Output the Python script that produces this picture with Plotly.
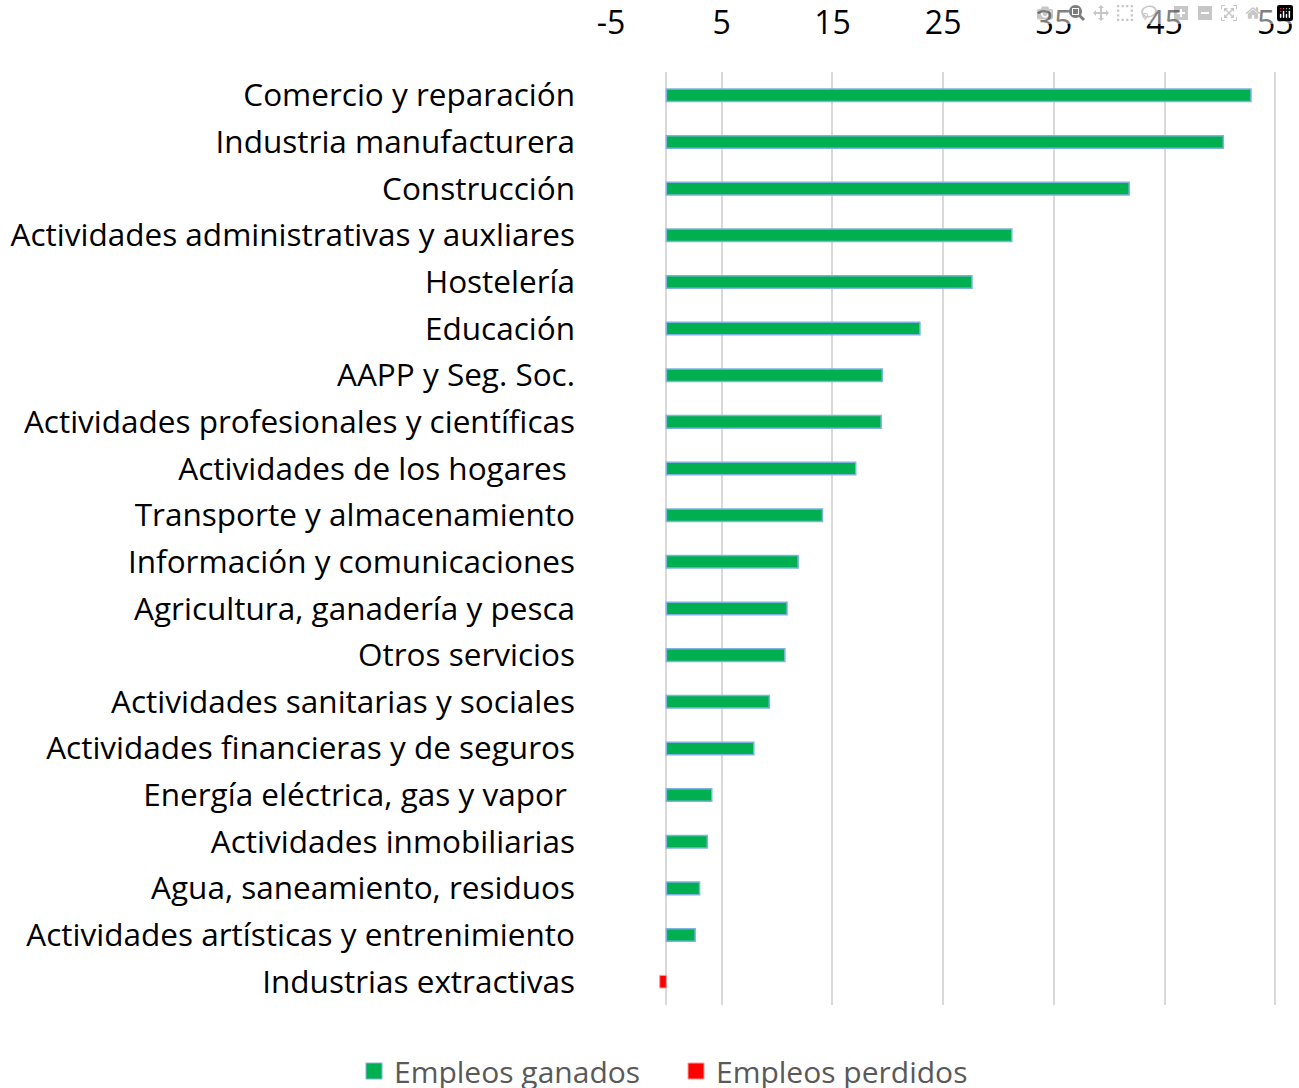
import plotly.graph_objects as go

# Sectors, top to bottom
sectores = [
    "Comercio y reparación",
    "Industria manufacturera",
    "Construcción",
    "Actividades administrativas y auxliares",
    "Hostelería",
    "Educación",
    "AAPP y Seg. Soc.",
    "Actividades profesionales y científicas",
    "Actividades de los hogares ",
    "Transporte y almacenamiento",
    "Información y comunicaciones",
    "Agricultura, ganadería y pesca",
    "Otros servicios",
    "Actividades sanitarias y sociales",
    "Actividades financieras y de seguros",
    "Energía eléctrica, gas y vapor ",
    "Actividades inmobiliarias",
    "Agua, saneamiento, residuos",
    "Actividades artísticas y entrenimiento",
    "Industrias extractivas",
]

# Jobs change (thousands)
empleos_ganados = [52.8, 50.3, 41.8, 31.2, 27.6, 22.9, 19.5, 19.4, 17.1, 14.1,
                   11.9, 10.9, 10.7, 9.3, 7.9, 4.1, 3.7, 3.0, 2.6, None]
empleos_perdidos = [None] * 19 + [-0.6]

tick_vals = [-5, 5, 15, 25, 35, 45, 55]
tick_text = ["-5", "5", "15", "25", "35", "45", "55"]

FONT = "'Open Sans', Calibri, sans-serif"
GREEN, GREEN_EDGE = "#00B050", "#7FB2E0"
RED, RED_EDGE = "#FF0000", "#FF9A9A"

fig = go.Figure()

fig.add_trace(go.Bar(
    y=sectores, x=empleos_ganados, orientation="h",
    name="Empleos ganados", showlegend=False,
    marker=dict(color=GREEN, line=dict(color=GREEN_EDGE, width=1.5)),
    width=0.27,
))
fig.add_trace(go.Bar(
    y=sectores, x=empleos_perdidos, orientation="h",
    name="Empleos perdidos", showlegend=False,
    marker=dict(color=RED, line=dict(color=RED_EDGE, width=1)),
    width=0.27,
))

# legend entries with bigger square swatches
for name, col, edge in [("Empleos ganados", GREEN, GREEN_EDGE),
                        ("Empleos perdidos", RED, RED_EDGE)]:
    fig.add_trace(go.Scatter(
        x=[None], y=[None], mode="markers", name=name,
        marker=dict(symbol="square", size=16, color=col, line=dict(color=edge, width=1)),
    ))

fig.update_layout(
    width=1299, height=1088,
    barmode="relative",
    plot_bgcolor="white", paper_bgcolor="white",
    margin=dict(l=611, r=22, t=72, b=83),
    font=dict(family=FONT, size=31.5, color="#000000"),
    xaxis=dict(
        side="top", range=[-5, 55.15], tickvals=tick_vals, ticktext=tick_text,
        showgrid=True, gridcolor="#D9D9D9", gridwidth=1.5,
        zeroline=True, zerolinecolor="#D9D9D9", zerolinewidth=1.5,
        showline=False, ticks="", ticklabelstandoff=31, automargin=False,
        tickfont=dict(size=32, color="#000000"),
    ),
    yaxis=dict(
        autorange="reversed", showgrid=False, showline=False, ticks="",
        ticklabelstandoff=35, automargin=False,
        tickfont=dict(size=31.5, color="#000000"),
    ),
    showlegend=True,
    legend=dict(
        orientation="h", xref="container", yref="container",
        x=354 / 1299, y=1 - 1045 / 1088, xanchor="left", yanchor="top",
        font=dict(size=30, color="#595959"),
        itemwidth=30, entrywidth=277,
    ),
)

# drop the default page margin so the figure fills the window exactly
fig.write_html("out.html", post_script="document.body.style.margin='0';")
